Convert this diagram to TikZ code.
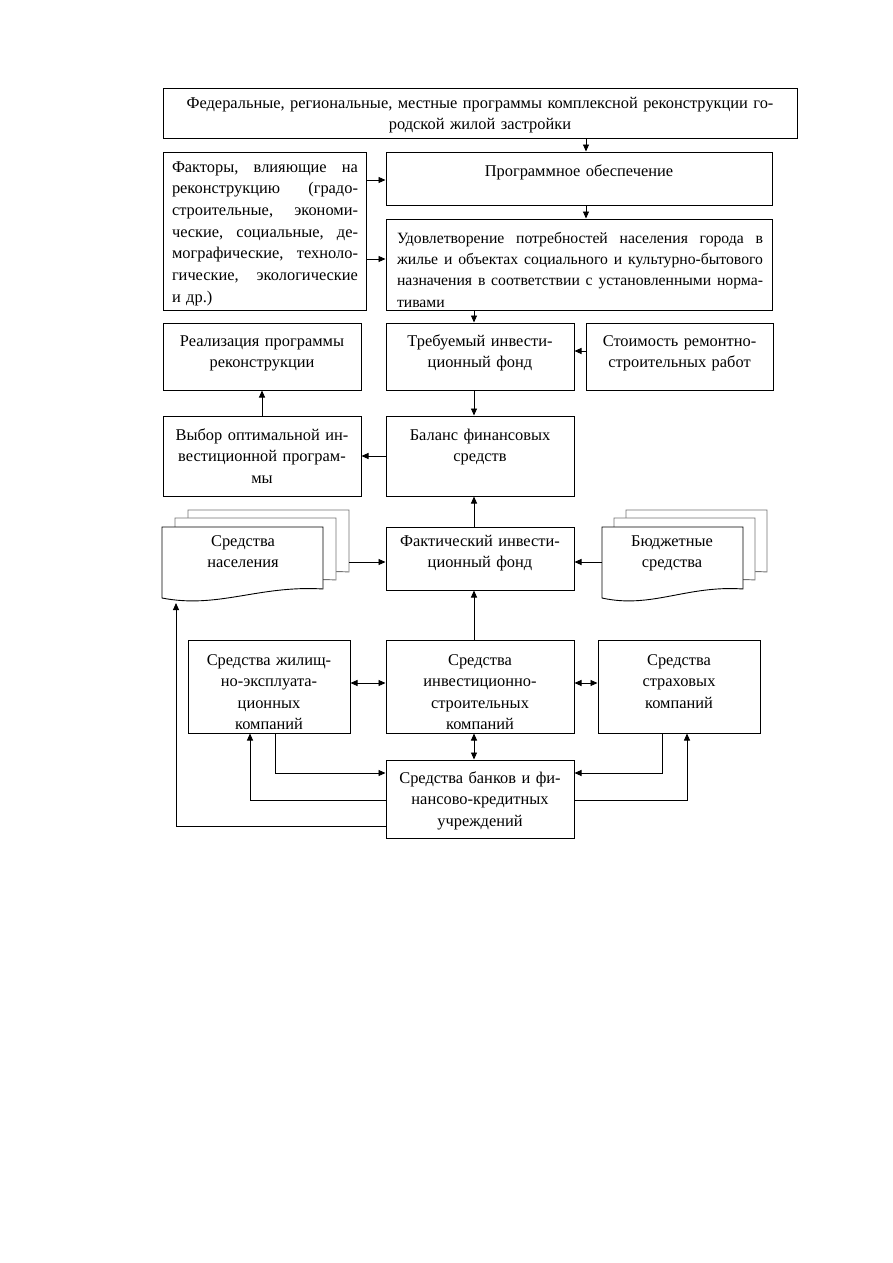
\documentclass[tikz,border=0pt]{standalone}
\usepackage{fontspec}
\setmainfont{Liberation Serif}
\usetikzlibrary{arrows.meta,calc}
\newcommand\docpage[4]{%
  \draw[line width=0.9pt, draw=#4, fill=white] (#1,#2) -- ({#1+#3},#2) -- ({#1+#3},{#2+62})
    .. controls ({#1+0.6*#3},{#2+58}) and ({#1+0.35*#3},{#2+82}) .. (#1,{#2+71}) -- cycle;}
\newcommand\jline[2]{\leavevmode\hbox to #1{#2}}
\begin{document}
\begin{tikzpicture}[x=1pt,y=-1pt,
  box/.style={draw, line width=1pt, inner sep=0pt, fill=white},
  txt/.style={font=\fontsize{16.4}{21.5}\selectfont, inner sep=0pt, anchor=base, align=center},
  arr/.style={line width=0.9pt, -{Triangle[length=7pt,width=6pt]}},
  darr/.style={line width=0.9pt, {Triangle[length=7pt,width=6pt]}-{Triangle[length=7pt,width=6pt]}},
]
\useasboundingbox[fill=white] (0,0) rectangle (893,1263);
% boxes
\node[box, minimum width=634pt, minimum height=50pt] (top) at (480,113) {};
\node[box, minimum width=203pt, minimum height=158pt] (fac) at (264.5,231) {};
\node[box, minimum width=386pt, minimum height=53pt] (prog) at (579,178.5) {};
\node[box, minimum width=386pt, minimum height=91pt] (udov) at (579,264.5) {};
\node[box, minimum width=198pt, minimum height=67pt] (real) at (262,356.5) {};
\node[box, minimum width=188pt, minimum height=67pt] (treb) at (480,356.5) {};
\node[box, minimum width=187pt, minimum height=67pt] (stoim) at (679.5,356.5) {};
\node[box, minimum width=198pt, minimum height=80pt] (vybor) at (262,456) {};
\node[box, minimum width=188pt, minimum height=80pt] (bal) at (480,456) {};
\node[box, minimum width=188pt, minimum height=63pt] (fakt) at (480,558.5) {};
\node[box, minimum width=162pt, minimum height=93pt] (zhil) at (269,686.5) {};
\node[box, minimum width=188pt, minimum height=93pt] (inv) at (480,686.5) {};
\node[box, minimum width=162pt, minimum height=93pt] (strah) at (679,686.5) {};
\node[box, minimum width=188pt, minimum height=78pt] (bank) at (480,799) {};
% document stacks
\docpage{188}{510}{161}{black!55}
\docpage{175}{518}{161}{black!55}
\docpage{162}{527}{161}{black}
\docpage{626}{510}{141}{black!55}
\docpage{614}{518}{141}{black!55}
\docpage{602}{527}{141}{black}
\coordinate (nasR) at (349,562);
\coordinate (budL) at (602,562);
\coordinate (nasB) at (176,603);
% texts
\node[txt, text width=630pt] (topT) at (480,108) {Федеральные, региональные, местные программы комплексной реконструкции го-\\родской жилой застройки};
\node[txt, text width=186pt, align=left, font=\fontsize{16.4}{21.7}\selectfont] (facT) at (265,172) {%
\jline{186pt}{Факторы, \hfill влияющие \hfill на}\\
\jline{186pt}{реконструкцию \hfill (градо-}\\
\jline{186pt}{строительные, \hfill экономи-}\\
\jline{186pt}{ческие, \hfill социальные, \hfill де-}\\
\jline{186pt}{мографические, \hfill техноло-}\\
\jline{186pt}{гические, \hfill экологические}\\
и др.)};
\node[txt, text width=380pt] (progT) at (579,176) {Программное обеспечение};
\node[txt, text width=366pt, align=left, font=\fontsize{15.7}{21.4}\selectfont] (udovT) at (580,243) {%
\jline{366pt}{Удовлетворение \hfill потребностей \hfill населения \hfill города \hfill в}\\
\jline{366pt}{жилье \hfill и \hfill объектах \hfill социального \hfill и \hfill культурно-бытового}\\
\jline{366pt}{назначения \hfill в \hfill соответствии \hfill с \hfill установленными \hfill норма-}\\
тивами};
\node[txt, text width=194pt] (realT) at (262,346) {Реализация программы\\реконструкции};
\node[txt, text width=184pt] (trebT) at (480,346) {Требуемый инвести-\\ционный фонд};
\node[txt, text width=183pt] (stoimT) at (679.5,346) {Стоимость ремонтно-\\строительных работ};
\node[txt, text width=194pt] (vyborT) at (262,440) {Выбор оптимальной ин-\\вестиционной програм-\\мы};
\node[txt, text width=184pt] (balT) at (480,440) {Баланс финансовых\\средств};
\node[txt, text width=184pt] (faktT) at (480,546) {Фактический инвести-\\ционный фонд};
\node[txt, text width=155pt] (nasT) at (243,546) {Средства\\населения};
\node[txt, text width=136pt] (budT) at (672,546) {Бюджетные\\средства};
\node[txt, text width=158pt] (zhilT) at (269,665) {Средства жилищ-\\но-эксплуата-\\ционных\\компаний};
\node[txt, text width=184pt] (invT) at (480,665) {Средства\\инвестиционно-\\строительных\\компаний};
\node[txt, text width=158pt] (strahT) at (679,665) {Средства\\страховых\\компаний};
\node[txt, text width=184pt] (bankT) at (480,783) {Средства банков и фи-\\нансово-кредитных\\учреждений};
% helper coordinates
\coordinate (c586) at (586,0);
\coordinate (c474) at (474,0);
\coordinate (c275) at (275,0);
\coordinate (c250) at (250,0);
\coordinate (c662) at (662,0);
\coordinate (c687) at (687,0);
\coordinate (c176) at (176,0);
\coordinate (r180) at (0,180);
\coordinate (r259) at (0,259);
\coordinate (r351) at (0,351);
\coordinate (r683) at (0,683);
\coordinate (r773) at (0,773);
\coordinate (r800) at (0,800);
\coordinate (r826) at (0,826);
% connectors
\draw[arr] (top.south -| c586) -- (prog.north -| c586);
\draw[arr] (prog.south -| c586) -- (udov.north -| c586);
\draw[arr] (fac.east |- r180) -- (prog.west |- r180);
\draw[arr] (fac.east |- r259) -- (udov.west |- r259);
\draw[arr] (udov.south -| c474) -- (treb.north -| c474);
\draw[arr] (stoim.west |- r351) -- (treb.east |- r351);
\draw[arr] (treb.south -| c474) -- (bal.north -| c474);
\draw[arr] (vybor.north) -- (real.south);
\draw[arr] (bal.west) -- (vybor.east);
\draw[arr] (fakt.north -| c474) -- (bal.south -| c474);
\draw[arr] (nasR) -- (fakt.west |- nasR);
\draw[arr] (budL) -- (fakt.east |- budL);
\draw[arr] (inv.north -| c474) -- (fakt.south -| c474);
\draw[darr] (zhil.east |- r683) -- (inv.west |- r683);
\draw[darr] (inv.east |- r683) -- (strah.west |- r683);
\draw[darr] (inv.south -| c474) -- (bank.north -| c474);
\draw[arr] (zhil.south -| c275) -- (c275 |- r773) -- (bank.west |- r773);
\draw[arr] (bank.west |- r800) -- (c250 |- r800) -- (zhil.south -| c250);
\draw[arr] (strah.south -| c662) -- (c662 |- r773) -- (bank.east |- r773);
\draw[arr] (bank.east |- r800) -- (c687 |- r800) -- (strah.south -| c687);
\draw[arr] (bank.west |- r826) -- (c176 |- r826) -- (nasB);
\end{tikzpicture}
\end{document}
